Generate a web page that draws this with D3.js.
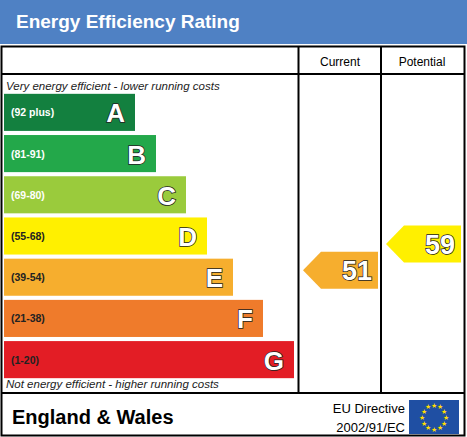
<!DOCTYPE html><html><head><meta charset="utf-8">
<script src="https://cdn.jsdelivr.net/npm/d3@7"></script>
<style>body{margin:0;background:#fff}svg{display:block}text{font-family:Arial,"Liberation Sans",sans-serif}</style>
</head><body><svg id="c" width="467" height="437"></svg>
<script>
const bands = ["A","B","C","D","E","F","G"];
const ranges = ["(92 plus)","(81-91)","(69-80)","(55-68)","(39-54)","(21-38)","(1-20)"];
const lowerBounds = [92,81,69,55,39,21,1];
const barWidths = [131,152,182,203,229,259,290];
const colors = ["#13803f","#23a84a","#9acb3c","#fff000","#f6ae2e","#ef7b2b","#e31d25"];
const currentRating = 51, potentialRating = 59;

const svg = d3.select("#c");
svg.append("rect").attr("x",0).attr("y",0).attr("width",467).attr("height",44).attr("fill","#4f81c4");
svg.append("text").attr("x",16).attr("y",28).attr("fill","#fff").attr("font-size",19).attr("font-weight","bold").text("Energy Efficiency Rating");
const bx=1.5, by=46.5, bw=463, bh=389;
svg.append("rect").attr("x",bx).attr("y",by).attr("width",bw).attr("height",bh).attr("fill","none").attr("stroke","#000").attr("stroke-width",2);
const line=(x1,y1,x2,y2)=>svg.append("line").attr("x1",x1).attr("y1",y1).attr("x2",x2).attr("y2",y2).attr("stroke","#000").attr("stroke-width",2);
line(bx,74,bx+bw,74); line(bx,393,bx+bw,393); line(298.5,by,298.5,393); line(381,by,381,393);
svg.append("text").attr("x",340).attr("y",66).attr("text-anchor","middle").attr("font-size",12).text("Current");
svg.append("text").attr("x",422).attr("y",66).attr("text-anchor","middle").attr("font-size",12).text("Potential");
svg.append("text").attr("x",6).attr("y",90).attr("font-size",11.5).attr("font-style","italic").attr("fill","#222").text("Very energy efficient - lower running costs");
svg.append("text").attr("x",6).attr("y",388).attr("font-size",11.5).attr("font-style","italic").attr("fill","#222").text("Not energy efficient - higher running costs");

const y = d3.scaleBand().domain(bands).range([93,379]).paddingInner(0.1).paddingOuter(0.02);
const x = d3.scaleLinear().domain([0,290]).range([4,294]);
const g = svg.selectAll("g.b").data(bands).join("g");
g.append("rect").attr("x",x(0)).attr("y",d=>y(d)).attr("width",(d,i)=>x(barWidths[i])-x(0)).attr("height",y.bandwidth()).attr("fill",(d,i)=>colors[i]);
g.append("text").attr("x",11).attr("y",d=>y(d)+y.bandwidth()/2+4).attr("font-size",10.5).attr("font-weight","bold").attr("fill",(d,i)=>i<3?"#fff":"#222").text((d,i)=>ranges[i]);
g.append("text").attr("x",(d,i)=>x(barWidths[i])-10).attr("y",d=>y(d)+y.bandwidth()/2+10).attr("text-anchor","end").attr("font-size",26).attr("font-weight","bold").attr("fill","#fff").attr("stroke","#222").attr("stroke-width",1.5).attr("paint-order","stroke").text(d=>d);

function bandOf(v){return bands[lowerBounds.findIndex(l=>v>=l)];}
function arrow(v,x0,x1,dy){
  const b=bandOf(v), yy=y(b)+dy, h=y.bandwidth(), i=bands.indexOf(b);
  svg.append("path").attr("d",`M${x0},${yy+h/2}L${x0+18},${yy}L${x1},${yy}L${x1},${yy+h}L${x0+18},${yy+h}Z`).attr("fill",colors[i]);
  svg.append("text").attr("x",x1-6).attr("y",yy+h/2+10).attr("text-anchor","end").attr("font-size",27).attr("font-weight","bold").attr("fill","#fff").attr("stroke","#222").attr("stroke-width",1.5).attr("paint-order","stroke").text(v);
}
arrow(currentRating,303,378,-7);
arrow(potentialRating,386,461,8);

svg.append("text").attr("x",12).attr("y",424).attr("font-size",20).attr("font-weight","bold").text("England & Wales");
svg.append("text").attr("x",405).attr("y",413).attr("text-anchor","end").attr("font-size",13).text("EU Directive");
svg.append("text").attr("x",405).attr("y",432).attr("text-anchor","end").attr("font-size",13).text("2002/91/EC");
svg.append("rect").attr("x",409).attr("y",400).attr("width",50).attr("height",34).attr("fill","#1f4fa3");
d3.range(12).forEach(k=>{const a=k*Math.PI/6;svg.append("text").attr("x",434+12*Math.cos(a)).attr("y",417+12*Math.sin(a)+2.5).attr("text-anchor","middle").attr("font-size",7).attr("fill","#ffde00").text("★");});
</script></body></html>
